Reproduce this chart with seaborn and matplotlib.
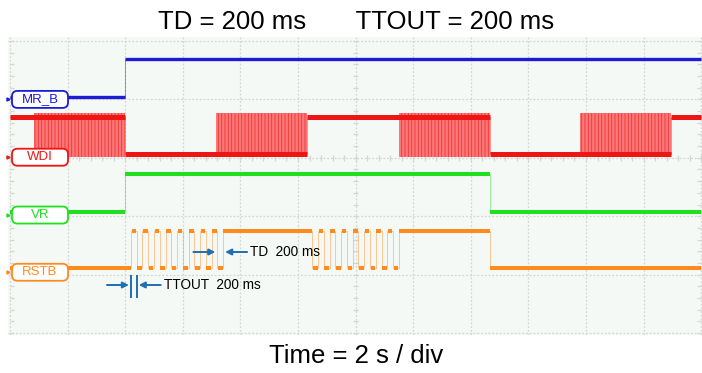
import matplotlib
matplotlib.use("Agg")
import matplotlib.pyplot as plt
import numpy as np
import pandas as pd
import seaborn as sns
from matplotlib.patches import FancyBboxPatch

W, H, DPI = 702, 373, 100

# Screen: 12 horizontal divisions at 2 s/div, 5 vertical divisions
SEC_PER_DIV = 2.0
N_XDIV = 12
N_YDIV = 5

# Channels, colours and trace levels (in divisions)
channels = ["MR_B", "WDI", "VR", "RSTB"]
colors = ["#1c1cd6", "#ee1515", "#1fe01f", "#ff8a1e"]
low_levels = [4.04, 3.07, 2.07, 1.11]
high_levels = [4.69, 3.70, 2.72, 1.75]
label_levels = [4.00, 3.01, 2.02, 1.04]

# Logic states between edges (seconds)
mrb_edges = [0.0, 4.0, 24.0]
mrb_states = [0, 1]

wdi_edges = [0.0, 4.0, 10.3, 16.65, 22.95, 24.0]
wdi_states = [1, 0, 1, 0, 1]
wdi_burst_start = [0.85, 7.15, 13.5, 19.8]
wdi_burst_end = [4.0, 10.3, 16.65, 22.95]

vr_edges = [0.0, 4.0, 16.65, 24.0]
vr_states = [0, 1, 0]

rstb_edges = [0.0, 4.2, 7.4, 10.5, 13.5, 16.65, 24.0]
rstb_states = [0, "pulse", 1, "pulse", 1, 0]
pulse_width_s = 0.200   # TD = TTOUT = 200 ms

title_text = "TD = 200 ms       TTOUT = 200 ms"
xlabel_text = "Time = 2 s / div"


def expand(edges, states, pulse=None):
    """Turn edge/state lists into (start, end, level) segments."""
    segs = []
    prev = None
    for a, b, s in zip(edges[:-1], edges[1:], states):
        if s == "pulse":
            n = int(round((b - a) / pulse))
            lvl = 1 - prev
            for k in range(n):
                segs.append((a + k * pulse, a + (k + 1) * pulse, lvl))
                lvl = 1 - lvl
            prev = segs[-1][2]
        else:
            segs.append((a, b, s))
            prev = s
    return segs


segments = {
    "MR_B": expand(mrb_edges, mrb_states),
    "WDI": expand(wdi_edges, wdi_states),
    "VR": expand(vr_edges, vr_states),
    "RSTB": expand(rstb_edges, rstb_states, pulse_width_s),
}

# Long-form table of step traces
rows = []
for ch, lo, hi in zip(channels, low_levels, high_levels):
    segs = segments[ch]
    for a, b, s in segs:
        rows.append((ch, a, hi if s else lo))
    rows.append((ch, segs[-1][1], hi if segs[-1][2] else lo))
trace = pd.DataFrame(rows, columns=["channel", "t", "y"])

sns.set_theme(style="white")
plt.rcParams["font.family"] = ["Liberation Sans", "DejaVu Sans"]
plt.rcParams["hatch.linewidth"] = 0.6

fig = plt.figure(figsize=(W / DPI, H / DPI), dpi=DPI)
fig.patch.set_facecolor("white")

# axes in pixel terms: x 8..702, y 37..335
px_per_s = 57.6 / SEC_PER_DIV
px_per_div = 58.4
left_px, right_px, top_px, bot_px = 8, 702, 37, 335
x0_px, y0_px = 10, 333   # screen origin (t=0, div=0)
ax = fig.add_axes([left_px / W, 1 - bot_px / H,
                   (right_px - left_px) / W, (bot_px - top_px) / H])
ax.set_xlim((left_px - x0_px) / px_per_s, (right_px - x0_px) / px_per_s)
ax.set_ylim((y0_px - bot_px) / px_per_div, (y0_px - top_px) / px_per_div)
ax.set_facecolor("#f5f9f5")
for sp in ax.spines.values():
    sp.set_visible(False)

# graticule
grid_c = "#d4d6d4"
ax.set_xticks(np.arange(0, N_XDIV * SEC_PER_DIV + 0.1, SEC_PER_DIV))
ax.set_yticks(np.arange(0, N_YDIV + 0.1, 1))
ax.tick_params(length=0, labelbottom=False, labelleft=False)
ax.grid(True, ls=(0, (1.5, 1.5)), color=grid_c, lw=0.9)
minor_y = np.arange(0, N_YDIV + 0.01, 0.2)
minor_x = np.arange(0, N_XDIV * SEC_PER_DIV + 0.01, 0.4)
xs_tick = 4 / px_per_s
ys_tick = 3 / px_per_div
ax.hlines(minor_y, 0, xs_tick, color=grid_c, lw=0.9)
ax.hlines(minor_y, 24 - xs_tick, 24, color=grid_c, lw=0.9)
ax.hlines(minor_y, 12 - xs_tick * 0.7, 12 + xs_tick * 0.7, color=grid_c, lw=0.9)
ax.vlines(minor_x, 3 - ys_tick, 3 + ys_tick, color=grid_c, lw=0.9)

# thin edges of every trace
palette = dict(zip(channels, colors))
sns.lineplot(data=trace, x="t", y="y", hue="channel", palette=palette,
             estimator=None, sort=False, drawstyle="steps-post",
             lw=0.7, alpha=0.45, legend=False, ax=ax)
ax.set_xlabel("")
ax.set_ylabel("")

# WDI toggling bursts
wlo, whi = low_levels[1], high_levels[1]
for a, b in zip(wdi_burst_start, wdi_burst_end):
    ax.fill_between([a, b], wlo - 0.05, whi + 0.06, facecolor="#ff7070",
                    edgecolor="#ee3030", hatch="|||||", lw=0, alpha=0.95,
                    zorder=2)

# thick trace levels
widths = {"MR_B": 2.4, "WDI": 3.6, "VR": 2.9, "RSTB": 2.9}
for ch, c, lo, hi in zip(channels, colors, low_levels, high_levels):
    segs = segments[ch]
    ys = [hi if s else lo for _, _, s in segs]
    a = [s[0] for s in segs]
    b = [s[1] for s in segs]
    if ch == "RSTB":
        # shrink each dash a little so the pulses read as separate marks
        pad = np.array([0.02 if (bb - aa) < 0.5 else 0 for aa, bb in zip(a, b)])
        a = np.array(a) + pad
        b = np.array(b) - pad
    ax.hlines(ys, a, b, color=c, lw=widths[ch], zorder=3)

# channel labels
box_w = 56 / px_per_s
box_h = 17 / px_per_div
box_left = 2 / px_per_s
for ch, c, yl in zip(channels, colors, label_levels):
    box = FancyBboxPatch((box_left, yl - box_h / 2), box_w, box_h,
                         boxstyle="round,pad=0,rounding_size=0.19",
                         fc="white", ec=c, lw=1.3, zorder=5)
    box.set_mutation_aspect(px_per_s / px_per_div)
    ax.add_patch(box)
    ax.text(box_left + box_w / 2, yl, ch, color=c, fontsize=9.5,
            ha="center", va="center", zorder=6)
    ax.plot([-2.5 / px_per_s], [yl], marker=">", ms=2.2, color=c,
            clip_on=False, zorder=6)

# timing annotations
arrow_c = "#1f6fb4"
rstb_segs = segments["RSTB"]
pulses = [s for s in rstb_segs if (s[1] - s[0]) < 0.5]
first_pulse = pulses[0]
burst1 = [s for s in pulses if s[0] < 8]
last_low = burst1[-1]
akw = dict(arrowstyle="-|>", color=arrow_c, lw=1.4, mutation_scale=9,
           shrinkA=0, shrinkB=0)
gap = 2 / px_per_s
alen = 22 / px_per_s

# TTOUT
y_tt = (y0_px - 285) / px_per_div
ax.vlines([first_pulse[0], first_pulse[1]], (y0_px - 298) / px_per_div,
          (y0_px - 275) / px_per_div, color=arrow_c, lw=1.4, zorder=4)
ax.annotate("", xy=(first_pulse[0] - gap, y_tt),
            xytext=(first_pulse[0] - gap - alen, y_tt), arrowprops=akw)
ax.annotate("", xy=(first_pulse[1] + gap, y_tt),
            xytext=(first_pulse[1] + gap + alen, y_tt), arrowprops=akw)
ax.text(first_pulse[1] + gap + alen + 0.1, y_tt,
        f"TTOUT  {int(pulse_width_s * 1000)} ms", fontsize=9.8,
        ha="left", va="center", color="black")

# TD
y_td = (y0_px - 252) / px_per_div
ax.annotate("", xy=(last_low[0] - gap, y_td),
            xytext=(last_low[0] - gap - alen, y_td), arrowprops=akw)
ax.annotate("", xy=(last_low[1] + gap, y_td),
            xytext=(last_low[1] + gap + alen, y_td), arrowprops=akw)
ax.text(last_low[1] + gap + alen + 0.1, y_td,
        f"TD  {int(pulse_width_s * 1000)} ms", fontsize=9.8,
        ha="left", va="center", color="black")

fig.text(356 / W, 1 - 29 / H, title_text, fontsize=18.5, ha="center",
         va="baseline", color="black")
fig.text(356 / W, 1 - 363 / H, xlabel_text, fontsize=18.5, ha="center",
         va="baseline", color="black")

fig.savefig("out.png", dpi=DPI)
